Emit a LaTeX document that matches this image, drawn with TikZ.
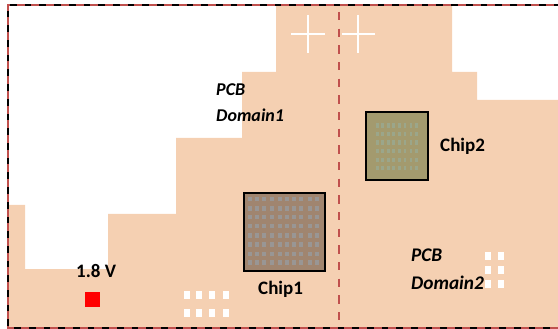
\documentclass[tikz,border=0pt]{standalone}
\usepackage{fontspec}
\setmainfont{Carlito}
\definecolor{board}{HTML}{F5D0B2}
\definecolor{frame}{HTML}{C0504D}
\definecolor{chipa}{HTML}{A0856F}
\definecolor{chipb}{HTML}{A39A6E}
\definecolor{dota}{HTML}{999694}
\definecolor{dotb}{HTML}{9BA68A}
\tikzset{
  lbl/.style={inner sep=0pt,anchor=west,font=\fontsize{19}{22}\selectfont\bfseries},
  ilbl/.style={lbl,font=\fontsize{18}{22}\selectfont\bfseries\itshape},
  ilblb/.style={lbl,font=\fontsize{19.3}{22}\selectfont\bfseries\itshape},
  chipbox/.style={draw=black,line width=2pt},
  whitedot/.style={fill=white},
  crossline/.style={draw=white,line width=2.2pt}
}
\begin{document}
\begin{tikzpicture}[x=1pt,y=-1pt]
\useasboundingbox (0,0) rectangle (558,329);
\fill[board] (8,328) -- (8,205) -- (25,205) -- (25,269) -- (108,269) -- (108,214) -- (176,214) -- (176,138) -- (242,138) -- (242,72) -- (276,72) -- (276,5) -- (452,5) -- (452,72) -- (477,72) -- (477,100) -- (558,100) -- (558,328) -- cycle;
% frame: three sides, the right edge shows none
\draw[black,line width=1.8pt] (558,328) -- (8,328) -- (8,5.4) -- (558,5.4);
\draw[frame,line width=2pt,dash pattern=on 8pt off 6.7pt] (558,328) -- (8,328) -- (8,4.8) -- (558,4.8);
% divider
\draw[frame,line width=2pt,dash pattern=on 8.4pt off 8.27pt] (339,12) -- (339,320.4);
% crosses
\draw[crossline] (291,34) -- (325,34) (308,15) -- (308,53);
\draw[crossline] (342,34) -- (375,34) (358,15) -- (358,53);
% chip 1
\fill[chipa] (244,193) rectangle (325,271);
\foreach \x in {250.3,257,264.3,271.7,279.7,286.7,293.7,301,309.7,316.7}
  \foreach \y in {199.3,208.7,217.3,226,235.3,244.3,253.7,262.3}
    \fill[dota] (\x-2,\y-2.2) rectangle (\x+2,\y+2.2);
\draw[chipbox] (244,193) rectangle (325,271);
% chip 2
\fill[chipb] (366,112) rectangle (428,180);
\foreach \x in {377.7,382.7,388.3,393.3,399.3,405,411,416.7}
  \foreach \y in {125.7,134.3,142.7,151.3,160,168.3}
    \fill[dotb] (\x-1.4,\y-2.2) rectangle (\x+1.4,\y+2.2);
\draw[chipbox] (366,112) rectangle (428,180);
% pads
\foreach \x in {187,199,212,226}
  \foreach \y in {295,313}
    \fill[whitedot] (\x-3,\y-4) rectangle (\x+3,\y+4);
\foreach \x in {488,501}
  \foreach \y in {256,270,284}
    \fill[whitedot] (\x-3.3,\y-3.6) rectangle (\x+3.3,\y+3.6);
% source
\fill[red] (85,292) rectangle (100,307);
% labels
\node[ilbl] (pcbone) at (216,90) {PCB};
\node[ilbl] (domone) at (216,115) {Domain1};
\node[ilblb] (pcbtwo) at (411,255) {PCB};
\node[ilblb] (domtwo) at (411,283) {Domain2};
\node[lbl] (chiptwo) at (440,146) {Chip2};
\node[lbl] (chipone) at (258,289) {Chip1};
\node[lbl] (volt) at (76,271) {1.8 V};
\end{tikzpicture}
\end{document}
